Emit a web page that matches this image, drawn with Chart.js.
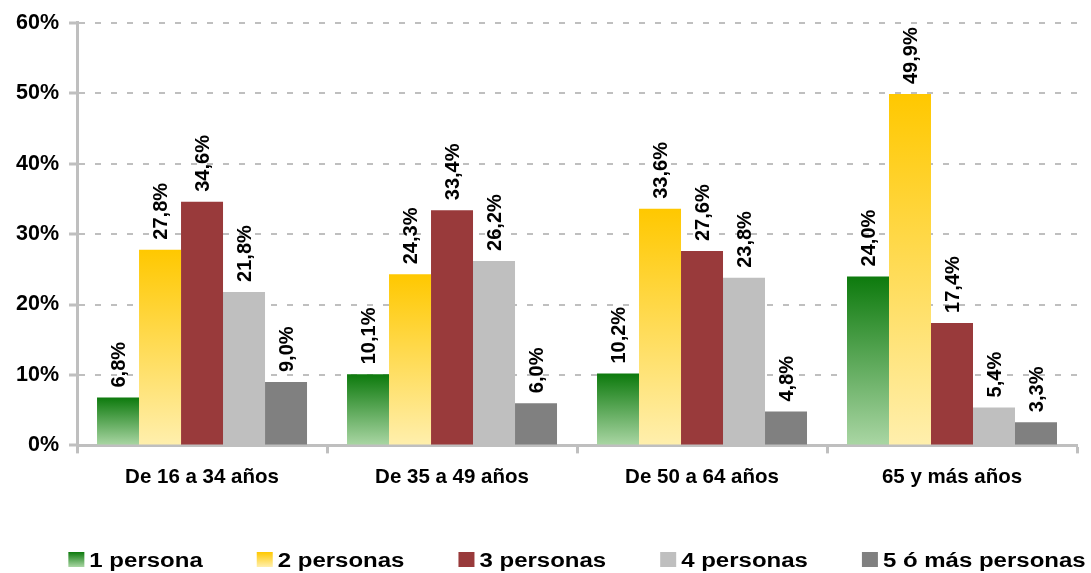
<!DOCTYPE html>
<html>
<head>
<meta charset="utf-8">
<script src="https://cdn.jsdelivr.net/npm/chart.js@4/dist/chart.umd.min.js"></script>
<style>
  html, body { margin: 0; padding: 0; background: #ffffff; }
  #wrap { width: 1091px; height: 573px; position: relative; }
</style>
</head>
<body>
<div id="wrap"><canvas id="c"></canvas></div>
<script>
// ---- data ----
const categories = ['De 16 a 34 años', 'De 35 a 49 años', 'De 50 a 64 años', '65 y más años'];
const seriesNames = ['1 persona', '2 personas', '3 personas', '4 personas', '5 ó más personas'];
const persona1 = [6.8, 10.1, 10.2, 24.0];
const personas2 = [27.8, 24.3, 33.6, 49.9];
const personas3 = [34.6, 33.4, 27.6, 17.4];
const personas4 = [21.8, 26.2, 23.8, 5.4];
const personas5 = [9.0, 6.0, 4.8, 3.3];
const yTicks = [0, 10, 20, 30, 40, 50, 60];

// ---- styles ----
const FONT = '"Liberation Sans", Arial, Helvetica, sans-serif';
const GRID = '#BFBFBF';
const fills = [
  { top: '#0D7A0D', bottom: '#AAD6A4' },
  { top: '#FFC800', bottom: '#FFEFAD' },
  { top: '#993A3B', bottom: '#993A3B' },
  { top: '#BFBFBF', bottom: '#BFBFBF' },
  { top: '#808080', bottom: '#808080' }
];

function barFill(i) {
  const f = fills[i];
  if (f.top === f.bottom) return f.top;
  return function (ctx) {
    const chart = ctx.chart;
    const ys = chart.scales && chart.scales.y;
    if (ctx.type !== 'data' || !ys || ctx.raw == null) return f.top;
    const y0 = ys.getPixelForValue(ctx.raw);
    const y1 = ys.getPixelForValue(0);
    if (!isFinite(y0) || !isFinite(y1) || y0 === y1) return f.top;
    const g = chart.ctx.createLinearGradient(0, y0, 0, y1);
    g.addColorStop(0, f.top);
    g.addColorStop(1, f.bottom);
    return g;
  };
}

const seriesData = [persona1, personas2, personas3, personas4, personas5];

// rotated value labels above bars
const valueLabels = {
  id: 'valueLabels',
  afterDatasetsDraw(chart) {
    const ctx = chart.ctx;
    ctx.save();
    ctx.font = 'bold 20px ' + FONT;
    ctx.fillStyle = '#000000';
    ctx.textBaseline = 'middle';
    ctx.textAlign = 'left';
    chart.data.datasets.forEach((ds, di) => {
      const meta = chart.getDatasetMeta(di);
      meta.data.forEach((bar, i) => {
        const v = ds.data[i];
        const txt = v.toFixed(1).replace('.', ',') + '%';
        ctx.save();
        ctx.translate(bar.x + 1, bar.y - 10);
        ctx.rotate(-Math.PI / 2);
        ctx.fillText(txt, 0, 0);
        ctx.restore();
      });
    });
    ctx.restore();
  }
};

// legend drawn under the plot, centred on the plot area
const bottomLegend = {
  id: 'bottomLegend',
  afterDraw(chart) {
    const ctx = chart.ctx;
    const ca = chart.chartArea;
    const sx = 1.2, boxW = 16, boxH = 15, textGap = 5, itemGap = 54;
    ctx.save();
    ctx.font = 'bold 20px ' + FONT;
    const widths = chart.data.datasets.map(ds => ctx.measureText(ds.label).width * sx);
    const total = widths.reduce((a, w) => a + boxW + textGap + w, 0) + itemGap * (widths.length - 1);
    let x = (ca.left + ca.right) / 2 - total / 2;
    const boxTop = chart.height - 21;
    const baseline = chart.height - 6.5;
    chart.data.datasets.forEach((ds, i) => {
      const f = fills[i];
      let fs = f.top;
      if (f.top !== f.bottom) {
        fs = ctx.createLinearGradient(0, boxTop, 0, boxTop + boxH);
        fs.addColorStop(0, f.top);
        fs.addColorStop(1, f.bottom);
      }
      ctx.fillStyle = fs;
      ctx.fillRect(x, boxTop, boxW, boxH);
      ctx.save();
      ctx.translate(x + boxW + textGap, baseline);
      ctx.scale(sx, 1);
      ctx.fillStyle = '#000000';
      ctx.textAlign = 'left';
      ctx.textBaseline = 'alphabetic';
      ctx.fillText(ds.label, 0, 0);
      ctx.restore();
      x += boxW + textGap + widths[i] + itemGap;
    });
    ctx.restore();
  }
};

Chart.defaults.font.family = FONT;
Chart.defaults.color = '#000000';

new Chart(document.getElementById('c'), {
  type: 'bar',
  data: {
    labels: categories,
    datasets: seriesNames.map((name, i) => ({
      label: name,
      data: seriesData[i],
      backgroundColor: barFill(i),
      borderWidth: 0,
      categoryPercentage: 0.84,
      barPercentage: 1.0
    }))
  },
  options: {
    responsive: true,
    maintainAspectRatio: false,
    animation: false,
    layout: { padding: { left: 6, right: 14, top: 18, bottom: 71 } },
    plugins: {
      legend: { display: false },
      tooltip: { enabled: false }
    },
    scales: {
      x: {
        grid: {
          display: true,
          drawOnChartArea: false,
          drawTicks: true,
          offset: true,
          tickLength: 8,
          tickColor: GRID,
          tickWidth: 3
        },
        border: { display: true, color: GRID, width: 3 },
        ticks: {
          font: { size: 20.5, weight: 'bold' },
          color: '#000000',
          padding: 12
        }
      },
      y: {
        min: yTicks[0],
        max: yTicks[yTicks.length - 1],
        afterBuildTicks(scale) { scale.ticks = yTicks.map(v => ({ value: v })); },
        grid: {
          color: GRID,
          lineWidth: 2,
          drawTicks: true,
          tickLength: 8,
          tickColor: GRID,
          tickWidth: 3,
          tickBorderDash: []
        },
        border: { display: true, color: GRID, width: 3, dash: [6, 10] },
        ticks: {
          font: { size: 21.5, weight: 'bold' },
          color: '#000000',
          padding: 10,
          callback: v => v + '%'
        }
      }
    }
  },
  plugins: [valueLabels, bottomLegend]
});
</script>
</body>
</html>
